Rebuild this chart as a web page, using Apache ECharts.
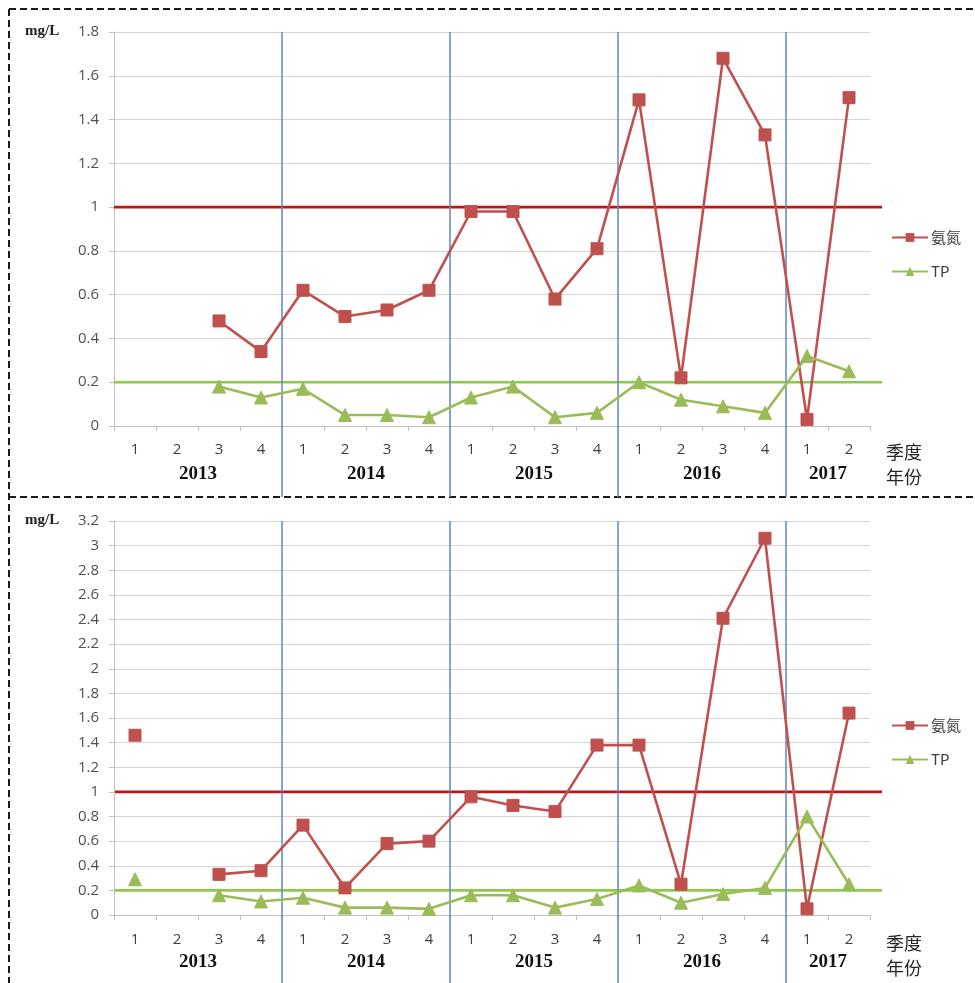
<!DOCTYPE html>
<html>
<head>
<meta charset="utf-8">
<title>氨氮与TP季度变化</title>
<script src="https://cdn.jsdelivr.net/npm/echarts@6/dist/echarts.min.js"></script>
<style>
  html, body { margin: 0; padding: 0; background: #fff; }
  #chart { width: 975px; height: 983px; }
</style>
</head>
<body>
<div id="chart"></div>
<script>
// Quarter labels along the x axis, and how many quarters each year covers
const quarters = ['1','2','3','4','1','2','3','4','1','2','3','4','1','2','3','4','1','2'];
const years = ['2013', '2014', '2015', '2016', '2017'];
const quartersPerYear = [4, 4, 4, 4, 2];

// Upper panel (mg/L)
const nh3Top = [null, null, 0.48, 0.34, 0.62, 0.50, 0.53, 0.62, 0.98, 0.98, 0.58, 0.81, 1.49, 0.22, 1.68, 1.33, 0.03, 1.50];
const tpTop  = [null, null, 0.18, 0.13, 0.17, 0.05, 0.05, 0.04, 0.13, 0.18, 0.04, 0.06, 0.20, 0.12, 0.09, 0.06, 0.32, 0.25];

// Lower panel (mg/L)
const nh3Bottom = [1.46, null, 0.33, 0.36, 0.73, 0.22, 0.58, 0.60, 0.96, 0.89, 0.84, 1.38, 1.38, 0.25, 2.41, 3.06, 0.05, 1.64];
const tpBottom  = [0.29, null, 0.16, 0.11, 0.14, 0.06, 0.06, 0.05, 0.16, 0.16, 0.06, 0.13, 0.24, 0.10, 0.17, 0.22, 0.80, 0.25];

// Standard limits drawn as horizontal reference lines
const nh3Limit = 1;
const tpLimit = 0.2;

// Y axis ranges of the two panels
const topMax = 1.8;
const bottomMax = 3.2;
const yStep = 0.2;

// Year boundaries and year label centres, counted in quarters
const yearBounds = [];
const yearCenters = {};
let acc = 0;
quartersPerYear.forEach((n, i) => {
  yearCenters[acc + n / 2] = years[i];
  acc += n;
  if (i < quartersPerYear.length - 1) yearBounds.push(acc);
});
const totalQuarters = acc;

const RED = '#C0504D';
const GREEN = '#9BBB59';
const LIMIT_RED = '#C0141C';
const LIMIT_GREEN = '#8CCB4A';
const SEP_BLUE = '#5B87C0';
const GRID_GRAY = '#D4D4D4';
const AXIS_GRAY = '#BFBFBF';

const PLOT_LEFT = 114, PLOT_W = 756, PLOT_H = 394;
const TOP_Y = 32, BOTTOM_Y = 521;

const chart = echarts.init(document.getElementById('chart'), null, { renderer: 'canvas' });

function quarterAxis(gridIndex, margin) {
  return {
    type: 'category', gridIndex, data: quarters, boundaryGap: true,
    axisLine: { show: true, lineStyle: { color: AXIS_GRAY, width: 1 } },
    axisTick: { show: true, length: 5, lineStyle: { color: AXIS_GRAY } },
    axisLabel: { interval: 0, margin, color: '#404040', fontSize: 15, fontFamily: 'Open Sans' },
    splitLine: { show: false }
  };
}
function yearAxis(gridIndex, margin) {
  return {
    type: 'value', gridIndex, min: 0, max: totalQuarters, interval: 1, position: 'bottom',
    axisLine: { show: false }, axisTick: { show: false }, splitLine: { show: false },
    axisLabel: {
      margin, color: '#111', fontSize: 19, fontWeight: 'bold', fontFamily: 'Liberation Serif',
      showMinLabel: true, showMaxLabel: true,
      formatter: v => yearCenters[v] || ''
    }
  };
}
function hiddenValue(gridIndex, min, max) {
  return { type: 'value', gridIndex, min, max, show: false, splitLine: { show: false } };
}
function valueYAxis(gridIndex, max) {
  return {
    type: 'value', gridIndex, min: 0, max, interval: yStep,
    axisLine: { show: true, lineStyle: { color: AXIS_GRAY } },
    axisTick: { show: true, length: 5, lineStyle: { color: AXIS_GRAY } },
    axisLabel: { margin: 15, color: '#505050', fontSize: 15, fontFamily: 'Open Sans',
      formatter: v => String(Math.round(v * 10) / 10) },
    splitLine: { show: true, lineStyle: { color: GRID_GRAY, width: 1.2 } }
  };
}
function dataSeries(name, data, color, symbol, size, xi, yi) {
  return {
    type: 'line', name, data, xAxisIndex: xi, yAxisIndex: yi,
    symbol, symbolSize: size, showSymbol: true, showAllSymbol: true, connectNulls: false,
    lineStyle: { color, width: 2.6 },
    itemStyle: { color, borderColor: color },
    z: 5, silent: true
  };
}
function limitSeries(name, value, color, xi, yi) {
  return {
    type: 'line', name, data: [[0, value], [1, value]], xAxisIndex: xi, yAxisIndex: yi,
    symbol: 'none', lineStyle: { color, width: 2.6 }, z: 3, silent: true
  };
}
function separatorSeries(xi, yi) {
  return {
    type: 'line', data: [], xAxisIndex: xi, yAxisIndex: yi, silent: true,
    markLine: {
      silent: true, symbol: ['none', 'none'], label: { show: false },
      lineStyle: { color: SEP_BLUE, width: 1.5, type: 'solid' },
      data: yearBounds.map(b => ({ xAxis: b }))
    },
    z: 2
  };
}
function legendAt(top) {
  return {
    orient: 'vertical', left: 886, top, itemWidth: 36, itemHeight: 11, itemGap: 19,
    data: ['氨氮', 'TP'],
    textStyle: { color: '#404040', fontSize: 15, fontFamily: 'Noto Sans CJK SC', padding: [0, 0, 0, -2] }
  };
}
const dashed = { stroke: '#1a1a1a', lineWidth: 2, lineDash: [7, 4] };
function txt(left, y, text, font, color) {
  return { type: 'text', left, top: y - 10, style: { text, font, fill: color } };
}

chart.setOption({
  animation: false,
  backgroundColor: '#ffffff',
  grid: [
    { left: PLOT_LEFT, top: TOP_Y, width: PLOT_W, height: PLOT_H },
    { left: PLOT_LEFT, top: BOTTOM_Y, width: PLOT_W, height: PLOT_H },
    { left: PLOT_LEFT, top: TOP_Y, width: PLOT_W, height: 465 },
    { left: PLOT_LEFT, top: BOTTOM_Y, width: PLOT_W, height: 462 },
    { left: PLOT_LEFT, top: TOP_Y, width: 768, height: PLOT_H },
    { left: PLOT_LEFT + 1, top: BOTTOM_Y, width: 767, height: PLOT_H }
  ],
  xAxis: [
    quarterAxis(0, 16), yearAxis(0, 39),
    quarterAxis(1, 17), yearAxis(1, 38),
    hiddenValue(2, 0, totalQuarters), hiddenValue(3, 0, totalQuarters),
    hiddenValue(4, 0, 1), hiddenValue(5, 0, 1)
  ],
  yAxis: [
    valueYAxis(0, topMax), valueYAxis(1, bottomMax),
    hiddenValue(2, 0, 1), hiddenValue(3, 0, 1),
    hiddenValue(4, 0, topMax), hiddenValue(5, 0, bottomMax)
  ],
  legend: [legendAt(225), legendAt(713)],
  series: [
    separatorSeries(4, 2),
    separatorSeries(5, 3),
    limitSeries('氨氮标准', nh3Limit, LIMIT_RED, 6, 4),
    limitSeries('TP标准', tpLimit, LIMIT_GREEN, 6, 4),
    limitSeries('氨氮标准', nh3Limit, LIMIT_RED, 7, 5),
    limitSeries('TP标准', tpLimit, LIMIT_GREEN, 7, 5),
    dataSeries('氨氮', nh3Top, RED, 'rect', 12, 0, 0),
    dataSeries('TP', tpTop, GREEN, 'triangle', 13, 0, 0),
    dataSeries('氨氮', nh3Bottom, RED, 'rect', 12, 2, 1),
    dataSeries('TP', tpBottom, GREEN, 'triangle', 13, 2, 1)
  ],
  graphic: [
    { type: 'line', shape: { x1: 9, y1: 9, x2: 975, y2: 9 }, style: dashed, silent: true },
    { type: 'line', shape: { x1: 9, y1: 9, x2: 9, y2: 983 }, style: dashed, silent: true },
    { type: 'line', shape: { x1: 9, y1: 497, x2: 975, y2: 497 }, style: dashed, silent: true },
    txt(25, TOP_Y + 2, 'mg/L', 'bold 15px "Liberation Serif"', '#222'),
    txt(25, BOTTOM_Y + 2, 'mg/L', 'bold 15px "Liberation Serif"', '#222'),
    txt(886, 453, '季度', '18px "Noto Sans CJK SC"', '#262626'),
    txt(886, 478, '年份', '18px "Noto Sans CJK SC"', '#262626'),
    txt(886, 944, '季度', '18px "Noto Sans CJK SC"', '#262626'),
    txt(886, 969, '年份', '18px "Noto Sans CJK SC"', '#262626')
  ]
});
</script>
</body>
</html>
